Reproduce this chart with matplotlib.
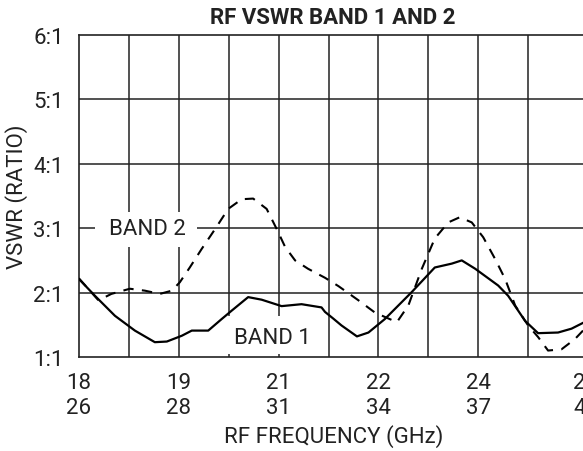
import matplotlib
matplotlib.use("Agg")
import matplotlib.pyplot as plt
from matplotlib.patches import Rectangle

plt.rcParams['font.family'] = ['Roboto', 'DejaVu Sans']

# x in grid divisions (0 = 18GHz / 26GHz)
band1_x = [0.0, 0.32, 0.72, 1.12, 1.52, 1.76, 2.06, 2.26, 2.59, 2.86, 3.06, 3.39,
           3.66, 4.06, 4.46, 4.86, 4.93, 5.09, 5.26, 5.57, 5.80, 6.13, 6.67, 7.13,
           7.47, 7.67, 7.94, 8.40, 8.60, 8.94, 9.20, 9.60, 9.87, 10.10]
band1_y = [2.21, 1.95, 1.64, 1.41, 1.23, 1.24, 1.33, 1.41, 1.41, 1.59, 1.72, 1.93,
           1.89, 1.79, 1.82, 1.77, 1.70, 1.60, 1.49, 1.32, 1.38, 1.59, 2.01, 2.39,
           2.45, 2.50, 2.37, 2.11, 1.95, 1.56, 1.37, 1.38, 1.44, 1.53]

band2_x = [0.0, 0.39, 0.65, 1.02, 1.32, 1.62, 1.86, 2.02, 2.22, 2.46, 2.73, 2.99,
           3.26, 3.49, 3.76, 3.96, 4.13, 4.33, 4.59, 4.93, 5.20, 5.60, 5.93, 6.37,
           6.60, 6.87, 7.13, 7.40, 7.63, 7.87, 8.10, 8.34, 8.54, 8.74, 9.00, 9.20,
           9.40, 9.67, 9.94, 10.10]
band2_y = [2.22, 1.88, 1.98, 2.06, 2.03, 1.98, 2.03, 2.16, 2.39, 2.68, 2.99, 3.30,
           3.45, 3.46, 3.30, 2.99, 2.71, 2.50, 2.37, 2.23, 2.10, 1.88, 1.69, 1.54,
           1.80, 2.37, 2.84, 3.09, 3.17, 3.09, 2.86, 2.52, 2.21, 1.80, 1.49, 1.31,
           1.10, 1.12, 1.28, 1.41]

xtick_pos = [0, 2, 4, 6, 8, 10.15]
xtick_labels = ["18\n26", "19\n28", "21\n31", "22\n34", "24\n37", "25\n40"]
ytick_pos = [1, 2, 3, 4, 5, 6]
ytick_labels = ["1:1", "2:1", "3:1", "4:1", "5:1", "6:1"]

fig = plt.figure(figsize=(5.83, 4.52), dpi=100)
ax = fig.add_axes([79/583, 94/452, 508/583, 322/452])
ax.set_xlim(0, 10.18)
ax.set_ylim(1, 6)

for gx in range(1, 10):
    ax.axvline(gx, color='#222222', lw=1.1, zorder=1)
for gy in [2, 3, 4, 5]:
    ax.axhline(gy, color='#222222', lw=1.1, zorder=1)

# white boxes behind the band labels
ax.add_patch(Rectangle((0.32, 2.71), 2.04, 0.54, facecolor='white', edgecolor='none', zorder=2))
ax.add_patch(Rectangle((2.87, 1.05), 1.96, 0.59, facecolor='white', edgecolor='none', zorder=2))
ax.text(1.37, 2.99, "BAND 2", fontsize=16, ha='center', va='center', zorder=3, color='#222222')
ax.text(3.87, 1.30, "BAND 1", fontsize=16, ha='center', va='center', zorder=3, color='#222222')

ax.plot(band1_x, band1_y, color='black', lw=1.6, zorder=4)
ax.plot(band2_x, band2_y, color='black', lw=1.5, dashes=(5, 4), zorder=4)

ax.set_xticks(xtick_pos)
ax.set_xticklabels(xtick_labels, fontsize=16, linespacing=1.25, color='#222222')
ax.set_yticks(ytick_pos)
ax.set_yticklabels(ytick_labels, fontsize=16, color='#222222')
ax.tick_params(length=0, pad=11)
for s in ax.spines.values():
    s.set_linewidth(1.2)
    s.set_color('#222222')

ax.set_ylabel("VSWR (RATIO)", fontsize=16, color='#222222')
ax.yaxis.set_label_coords(-0.1, 0.5)
fig.text(334/583, 1 - 437/452, "RF FREQUENCY (GHz)", fontsize=16, ha='center', va='center', color='#222222')
fig.text(333/583, 1 - 18/452, "RF VSWR BAND 1 AND 2", fontsize=16, fontweight='bold', ha='center', va='center', color='#222222')

fig.savefig("out.png", dpi=100)
